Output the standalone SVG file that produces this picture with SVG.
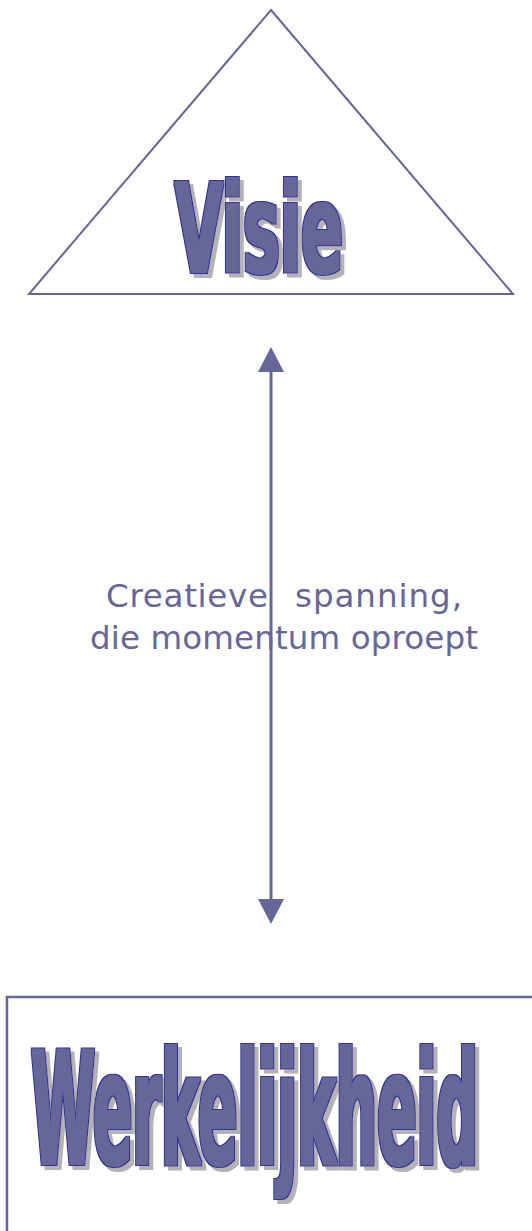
<svg xmlns="http://www.w3.org/2000/svg" width="532" height="1231" viewBox="0 0 532 1231">
<style>
.shape{fill:none;stroke:#666699}
.big{font-family:"DejaVu Sans",Verdana,sans-serif;font-weight:bold;fill:#666699}
.wa{filter:url(#wordart)}
.lbl{font-family:"DejaVu Sans",Verdana,sans-serif;font-size:32.5px;fill:#666699}
.conn{stroke:#666699;stroke-width:3;fill:none}
</style>
<defs>
<filter id="wordart" x="-10%" y="-10%" width="125%" height="130%">
<feMorphology in="SourceAlpha" operator="dilate" radius="2.3" result="outer"/>
<feMorphology in="SourceAlpha" operator="dilate" radius="0.8" result="inner"/>
<feFlood flood-color="#b3b3b3"/>
<feComposite in2="outer" operator="in"/>
<feOffset dx="4" dy="4" result="sh"/>
<feFlood flood-color="#333399"/>
<feComposite in2="outer" operator="in" result="ol"/>
<feFlood flood-color="#666699"/>
<feComposite in2="inner" operator="in" result="fl"/>
<feMerge><feMergeNode in="sh"/><feMergeNode in="ol"/><feMergeNode in="fl"/></feMerge>
</filter>
<marker id="ah" viewBox="0 0 25 26" refX="0" refY="13" markerWidth="25" markerHeight="26" markerUnits="userSpaceOnUse" orient="auto-start-reverse">
<path d="M0,0 L25,13 L0,26 z" fill="#666699"/>
</marker>
</defs>
<rect width="532" height="1231" fill="#ffffff"/>
<g id="visie">
<polygon class="shape" stroke-width="2" points="271,10 513,294 29,294"/>
<g class="wa">
<text class="big" x="175" y="272" font-size="123" textLength="168" lengthAdjust="spacingAndGlyphs">Visie</text>
</g>
</g>
<g id="werkelijkheid">
<rect class="shape" stroke-width="2.5" x="7" y="997" width="600" height="300"/>
<g class="wa">
<text class="big" transform="translate(31,1164) scale(1,2.6)" x="0" y="0" font-size="60" textLength="447" lengthAdjust="spacingAndGlyphs">Werkelijkheid</text>
</g>
</g>
<g id="connectors">
<line class="conn" x1="271" y1="372" x2="271" y2="899" marker-start="url(#ah)" marker-end="url(#ah)"/>
</g>
<g id="label">
<text class="lbl" x="106" y="607" textLength="162" lengthAdjust="spacing">Creatieve</text>
<text class="lbl" x="295" y="607" textLength="167" lengthAdjust="spacing">spanning,</text>
<text class="lbl" x="90" y="649" textLength="388" lengthAdjust="spacing">die momentum oproept</text>
</g>
</svg>
